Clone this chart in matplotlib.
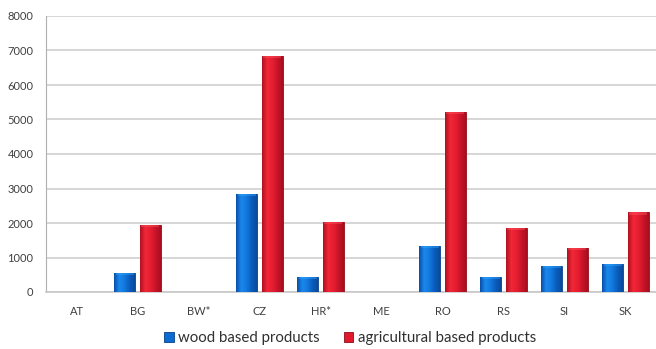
import numpy as np
import matplotlib
matplotlib.use("Agg")
import matplotlib.pyplot as plt
from matplotlib.colors import LinearSegmentedColormap

countries = ["AT", "BG", "BW*", "CZ", "HR*", "ME", "RO", "RS", "SI", "SK"]
wood = [0, 560, 0, 2840, 440, 0, 1340, 445, 755, 810]
agri = [0, 1940, 0, 6840, 2040, 0, 5220, 1855, 1285, 2310]
yticks = [0, 1000, 2000, 3000, 4000, 5000, 6000, 7000, 8000]

plt.rcParams["font.family"] = ["Lato", "DejaVu Sans"]

fig = plt.figure(figsize=(6.56, 3.49), dpi=100)
ax = fig.add_axes([46 / 656, 57 / 349, 610 / 656, 276 / 349])

x = np.arange(len(countries))
w = 0.34
off = 0.21
blue_bars = ax.bar(x - off, wood, w, color="#0a6cd0", edgecolor="#0a3f86",
                   linewidth=0.6, zorder=3, label="wood based products")
red_bars = ax.bar(x + off, agri, w, color="#e01a2c", edgecolor="#8a0e18",
                  linewidth=0.6, zorder=3, label="agricultural based products")

blue_cmap = LinearSegmentedColormap.from_list(
    "b", ["#0a4fa8", "#1a88ee", "#1378dc", "#0a5cbc", "#0a4a9c"])
red_cmap = LinearSegmentedColormap.from_list(
    "r", ["#b01020", "#f22838", "#e61e30", "#c8142a", "#a80e1c"])
grad = np.linspace(0, 1, 64).reshape(1, -1)

def shade(bars, cmap, cap):
    for p in bars:
        h = p.get_height()
        if h <= 0:
            continue
        x0, wd = p.get_x(), p.get_width()
        im = ax.imshow(grad, cmap=cmap, aspect="auto",
                       extent=[x0, x0 + wd, 0, h], zorder=3.5)
        im.set_clip_path(p)
        capc = min(70, h * 0.3)
        ax.fill_between([x0 + wd * 0.06, x0 + wd * 0.94], h - capc, h,
                        color=cap, alpha=0.4, linewidth=0, zorder=3.6)

shade(blue_bars, blue_cmap, "#35aaff")
shade(red_bars, red_cmap, "#ff5a66")

ax.set_xlim(-0.5, len(countries) - 0.5)
ax.set_ylim(0, 8000)
ax.set_yticks(yticks)
ax.set_yticklabels([str(v) for v in yticks], fontsize=8, color="#404040")
ax.set_xticks(x)
ax.set_xticklabels(countries, fontsize=8, color="#404040")
ax.tick_params(length=0)
ax.tick_params(axis="y", pad=9)
ax.tick_params(axis="x", pad=10)
ax.yaxis.grid(True, color="#d0d0d0", linewidth=1.2, zorder=0)
ax.set_axisbelow(True)
for s in ["top", "right"]:
    ax.spines[s].set_visible(False)
ax.spines["left"].set_color("#b0b0b0")
ax.spines["bottom"].set_color("#c8c8c8")
ax.spines["bottom"].set_linewidth(1.2)

leg = fig.legend(handles=[blue_bars, red_bars], loc="center",
                 bbox_to_anchor=(350 / 656, 1 - 338 / 349), ncol=2,
                 frameon=False, fontsize=10.8, handlelength=0.65,
                 handleheight=0.65, handletextpad=0.3, columnspacing=1.6)
for t in leg.get_texts():
    t.set_color("#303030")

fig.savefig("out.png", dpi=100)
